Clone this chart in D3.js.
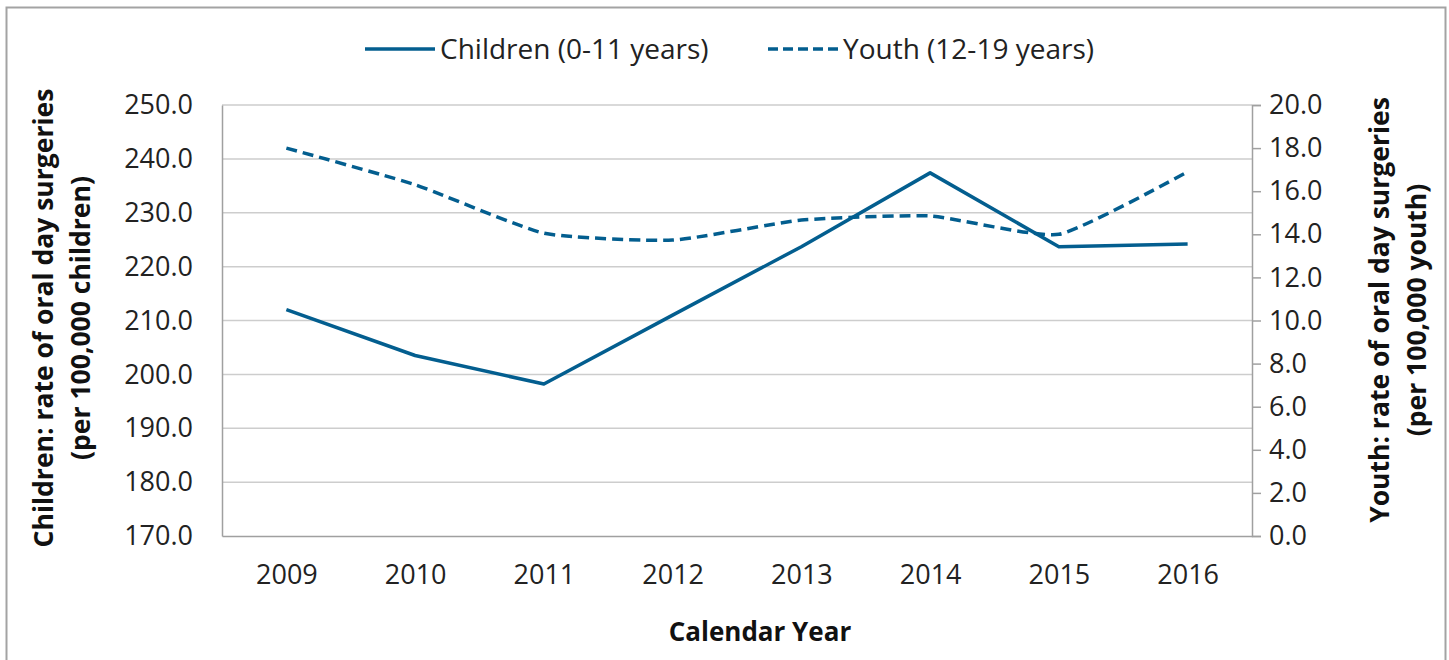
<!DOCTYPE html>
<html>
<head>
<meta charset="utf-8">
<script src="https://cdn.jsdelivr.net/npm/d3@7"></script>
<style>
  body { margin: 0; background: #fff; }
  svg { display: block; font-family: "Open Sans", "Noto Sans", sans-serif; }
</style>
</head>
<body>
<svg id="chart" width="1449" height="660"></svg>
<script>
const years = ["2009", "2010", "2011", "2012", "2013", "2014", "2015", "2016"];
const childrenRate = [212.0, 203.5, 198.2, 211.0, 223.7, 237.4, 223.7, 224.2];
const youthRate = [18.0, 16.3, 14.05, 13.73, 14.66, 14.85, 14.0, 16.9];
const leftTicks = [170, 180, 190, 200, 210, 220, 230, 240, 250];
const rightTicks = [0, 2, 4, 6, 8, 10, 12, 14, 16, 18, 20];
const seriesNames = ["Children (0-11 years)", "Youth (12-19 years)"];

const margin = { left: 222, right: 197, top: 105, bottom: 124 };
const W = 1449, H = 660;
const width = W - margin.left - margin.right;
const height = H - margin.top - margin.bottom;
const blue = "#035e8f";

const svg = d3.select("#chart");

// outer frame
svg.append("rect")
  .attr("x", 6.5).attr("y", 7.5)
  .attr("width", 1439).attr("height", 670)
  .attr("fill", "none").attr("stroke", "#a3a3a3").attr("stroke-width", 2);

const g = svg.append("g").attr("transform", `translate(${margin.left},${margin.top})`);

const x = d3.scalePoint().domain(years).range([0, width]).padding(0.5);
const yL = d3.scaleLinear().domain([170, 250]).range([height, 0]);
const yR = d3.scaleLinear().domain([0, 20]).range([height, 0]);

// gridlines
g.append("g")
  .selectAll("line")
  .data(leftTicks.filter(d => d !== 170))
  .join("line")
  .attr("x1", 0).attr("x2", width)
  .attr("y1", d => yL(d)).attr("y2", d => yL(d))
  .attr("stroke", "#cdcdcd").attr("stroke-width", 1.5);

// left axis
const axL = g.append("g")
  .call(d3.axisLeft(yL).tickValues(leftTicks).tickSize(0).tickPadding(29).tickFormat(d3.format(".1f")));
axL.select(".domain").attr("stroke", "#a0a0a0").attr("stroke-width", 1.5);
axL.selectAll("text").attr("font-size", 27).attr("fill", "#222").attr("font-family", "Open Sans");

// right axis
const axR = g.append("g")
  .attr("transform", `translate(${width},0)`)
  .call(d3.axisRight(yR).tickValues(rightTicks).tickSize(9).tickPadding(8).tickFormat(d3.format(".1f")));
axR.select(".domain").attr("stroke", "#a0a0a0").attr("stroke-width", 1.5);
axR.selectAll("line").attr("stroke", "#a0a0a0").attr("stroke-width", 1.5);
axR.selectAll("text").attr("font-size", 27).attr("fill", "#222").attr("font-family", "Open Sans");

// bottom axis
const axB = g.append("g")
  .attr("transform", `translate(0,${height})`)
  .call(d3.axisBottom(x).tickSize(0).tickPadding(29).tickSizeOuter(0));
axB.select(".domain").attr("stroke", "#a0a0a0").attr("stroke-width", 1.5);
axB.selectAll("text").attr("font-size", 27).attr("fill", "#222").attr("font-family", "Open Sans");

// lines
const lineL = d3.line().x((d, i) => x(years[i])).y(d => yL(d));
const lineR = d3.line().x((d, i) => x(years[i])).y(d => yR(d)).curve(d3.curveCardinal.tension(0.5));

g.append("path").datum(youthRate)
  .attr("fill", "none").attr("stroke", blue).attr("stroke-width", 3.5)
  .attr("stroke-dasharray", "11,6")
  .attr("d", lineR);

g.append("path").datum(childrenRate)
  .attr("fill", "none").attr("stroke", blue).attr("stroke-width", 3.5)
  .attr("stroke-linejoin", "round")
  .attr("d", lineL);

// axis titles
const leftTitle = svg.append("text")
  .attr("transform", "translate(44,318) rotate(-90)")
  .attr("text-anchor", "middle")
  .attr("font-size", 26.5).attr("font-weight", "bold").attr("fill", "#111");
leftTitle.append("tspan").attr("x", 0).attr("dy", "0.35em").text("Children: rate of oral day surgeries");
leftTitle.append("tspan").attr("x", 0).attr("dy", "1.4em").text("(per 100,000 children)");

const rightTitle = svg.append("text")
  .attr("transform", "translate(1380,310) rotate(-90)")
  .attr("text-anchor", "middle")
  .attr("font-size", 26.5).attr("font-weight", "bold").attr("fill", "#111");
rightTitle.append("tspan").attr("x", 0).attr("dy", "0.35em").text("Youth: rate of oral day surgeries");
rightTitle.append("tspan").attr("x", 0).attr("dy", "1.4em").text("(per 100,000 youth)");

svg.append("text")
  .attr("x", 760).attr("y", 641)
  .attr("text-anchor", "middle")
  .attr("font-size", 26).attr("font-weight", "bold").attr("fill", "#111")
  .text("Calendar Year");

// legend
const legendItems = [
  { name: seriesNames[0], x: 365, dash: null },
  { name: seriesNames[1], x: 768, dash: "10,5" }
];
const legend = svg.append("g").selectAll("g").data(legendItems).join("g")
  .attr("transform", d => `translate(${d.x},49)`);
legend.append("line")
  .attr("x1", 0).attr("x2", 70)
  .attr("stroke", blue).attr("stroke-width", 3.5)
  .attr("stroke-dasharray", d => d.dash);
legend.append("text")
  .attr("x", 75).attr("dy", "0.35em")
  .attr("font-size", 28).attr("fill", "#222")
  .text(d => d.name);
</script>
</body>
</html>
